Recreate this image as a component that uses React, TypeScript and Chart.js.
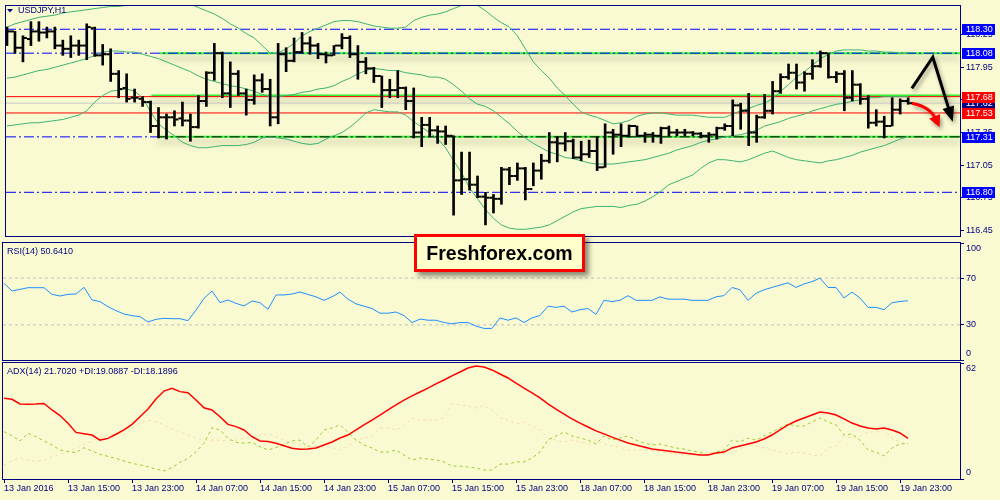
import React, { useEffect, useRef } from "react";
import { Chart, registerables } from "chart.js";

Chart.register(...registerables);

const FONT = "'Liberation Sans', Arial, sans-serif";
const NAVY = "#000080";
const BG = "#FAFAD2";
Chart.defaults.font.family = FONT;
Chart.defaults.font.size = 9;

// ---------- price data (H1 bars, 13 Jan 07:00 .. 20 Jan 00:00) ----------
const OPEN = [118.29,118.28,118.13,118.21,118.28,118.27,118.28,118.15,118.12,118.15,
118.15,118.31,118.06,118.07,117.89,117.76,117.67,117.66,117.63,117.41,
117.49,117.49,117.48,117.46,117.40,117.64,117.90,118.08,117.71,117.89,
117.71,117.65,117.83,117.75,117.49,118.07,118.01,118.09,118.17,118.15,
118.07,118.06,118.15,118.22,118.07,118.00,117.94,117.87,117.74,117.74,
117.76,117.64,117.35,117.42,117.37,117.36,117.32,116.91,116.92,116.87,
116.76,116.75,116.74,117.01,116.95,117.02,116.83,117.00,117.09,117.26,
117.25,117.27,117.12,117.15,117.18,117.03,117.35,117.33,117.32,117.41,
117.32,117.33,117.32,117.39,117.35,117.35,117.35,117.34,117.32,117.33,
117.39,117.41,117.60,117.55,117.35,117.49,117.55,117.73,117.86,117.90,
117.81,117.89,117.96,118.08,117.86,117.89,117.67,117.79,117.66,117.44,
117.45,117.41,117.56,117.64];
const HIGH = [118.32,118.28,118.24,118.37,118.37,118.32,118.32,118.20,118.24,118.20,
118.35,118.32,118.16,118.12,117.92,117.89,117.75,117.68,117.64,117.58,
117.52,117.55,117.63,117.52,117.69,117.91,118.17,118.09,118.00,117.92,
117.75,117.88,117.89,117.84,118.17,118.13,118.22,118.27,118.23,118.17,
118.09,118.15,118.26,118.24,118.15,118.04,117.95,117.87,117.84,117.92,
117.77,117.76,117.49,117.49,117.41,117.41,117.32,117.17,117.17,116.95,
116.80,116.78,117.03,117.03,117.07,117.03,117.07,117.15,117.35,117.31,
117.35,117.29,117.27,117.28,117.31,117.43,117.38,117.43,117.42,117.41,
117.35,117.35,117.40,117.41,117.38,117.38,117.36,117.35,117.35,117.40,
117.43,117.65,117.62,117.71,117.51,117.70,117.82,117.89,117.98,117.98,
117.91,118.02,118.10,118.08,117.91,117.92,117.92,117.80,117.69,117.56,
117.50,117.67,117.66,117.67];
const LOW = [118.15,118.08,118.00,118.15,118.19,118.22,118.12,118.06,118.04,118.06,
118.02,118.05,117.97,117.82,117.67,117.63,117.63,117.59,117.35,117.30,
117.29,117.41,117.41,117.27,117.39,117.59,117.83,117.67,117.58,117.69,
117.51,117.61,117.72,117.41,117.43,117.91,118.00,118.08,118.07,118.03,
117.99,118.06,118.12,118.04,117.84,117.89,117.81,117.58,117.67,117.67,
117.56,117.30,117.22,117.31,117.25,117.24,116.59,116.78,116.82,116.75,
116.50,116.61,116.69,116.87,116.91,116.73,116.86,116.92,117.07,117.08,
117.18,117.11,117.09,117.12,117.00,117.03,117.15,117.22,117.31,117.31,
117.26,117.26,117.25,117.32,117.32,117.32,117.32,117.30,117.26,117.29,
117.37,117.32,117.38,117.23,117.26,117.48,117.52,117.71,117.84,117.75,
117.73,117.84,117.95,117.85,117.81,117.55,117.64,117.61,117.39,117.41,
117.30,117.41,117.52,117.61];
const CLOSE = [118.28,118.13,118.22,118.28,118.27,118.28,118.15,118.12,118.15,118.15,
118.32,118.06,118.07,117.89,117.75,117.66,117.67,117.63,117.41,117.49,
117.49,117.47,117.46,117.40,117.64,117.90,118.08,117.71,117.89,117.71,
117.65,117.83,117.75,117.49,118.07,118.01,118.09,118.17,118.15,118.07,
118.06,118.15,118.22,118.07,118.00,117.94,117.87,117.74,117.74,117.76,
117.64,117.35,117.42,117.37,117.36,117.32,116.91,116.92,116.87,116.76,
116.75,116.74,117.01,116.95,117.02,116.83,117.00,117.09,117.26,117.25,
117.27,117.12,117.15,117.18,117.03,117.35,117.33,117.32,117.41,117.32,
117.33,117.32,117.39,117.35,117.35,117.35,117.34,117.32,117.33,117.39,
117.41,117.60,117.55,117.35,117.49,117.55,117.73,117.86,117.90,117.81,
117.89,117.96,118.08,117.86,117.89,117.67,117.79,117.66,117.44,117.45,
117.41,117.56,117.64,117.62];

// ---------- Bollinger bands ----------
const BB_UPPER = [118.32,118.35,118.37,118.39,118.41,118.42,118.43,118.45,118.46,118.47,
118.48,118.49,118.50,118.51,118.51,118.52,118.52,118.55,118.57,118.58,
118.58,118.57,118.56,118.53,118.50,118.47,118.44,118.40,118.35,118.31,
118.26,118.22,118.15,118.08,118.08,118.12,118.17,118.24,118.28,118.31,
118.34,118.37,118.38,118.38,118.37,118.35,118.33,118.32,118.31,118.31,
118.32,118.38,118.41,118.43,118.44,118.46,118.49,118.52,118.56,118.52,
118.47,118.41,118.36,118.32,118.24,118.12,118.00,117.92,117.85,117.76,
117.69,117.61,117.54,117.51,117.49,117.46,117.43,117.44,117.46,117.50,
117.52,117.53,117.53,117.52,117.51,117.51,117.51,117.50,117.49,117.49,
117.49,117.52,117.55,117.57,117.60,117.62,117.66,117.73,117.79,117.86,
117.91,117.97,118.03,118.07,118.10,118.11,118.11,118.11,118.10,118.10,
118.09,118.09,118.08,118.08];
const BB_MIDDLE = [117.85,117.86,117.88,117.90,117.92,117.93,117.95,117.97,117.99,118.01,
118.03,118.06,118.09,118.10,118.10,118.09,118.09,118.07,118.05,118.03,
118.00,117.97,117.94,117.91,117.87,117.84,117.82,117.80,117.78,117.77,
117.75,117.73,117.70,117.68,117.68,117.69,117.70,117.72,117.73,117.75,
117.76,117.78,117.82,117.85,117.89,117.92,117.94,117.93,117.92,117.92,
117.90,117.89,117.88,117.86,117.86,117.84,117.79,117.73,117.66,117.61,
117.59,117.55,117.49,117.43,117.36,117.30,117.25,117.21,117.17,117.15,
117.12,117.11,117.09,117.07,117.06,117.06,117.06,117.07,117.08,117.09,
117.10,117.12,117.14,117.16,117.19,117.21,117.23,117.26,117.28,117.29,
117.31,117.32,117.33,117.35,117.37,117.41,117.43,117.45,117.48,117.50,
117.52,117.55,117.57,117.59,117.61,117.62,117.64,117.65,117.67,117.67,
117.68,117.68,117.68,117.68];
const BB_LOWER = [117.41,117.42,117.43,117.44,117.44,117.45,117.46,117.47,117.49,117.51,
117.55,117.63,117.69,117.73,117.74,117.75,117.73,117.67,117.54,117.43,
117.37,117.32,117.26,117.23,117.21,117.21,117.22,117.23,117.23,117.23,
117.24,117.26,117.30,117.31,117.30,117.29,117.27,117.25,117.24,117.25,
117.29,117.32,117.35,117.40,117.46,117.53,117.56,117.55,117.54,117.54,
117.51,117.45,117.40,117.35,117.29,117.21,117.09,116.98,116.84,116.74,
116.64,116.56,116.50,116.47,116.46,116.46,116.47,116.48,116.50,116.54,
116.58,116.62,116.65,116.66,116.67,116.67,116.67,116.66,116.68,116.69,
116.72,116.76,116.81,116.87,116.90,116.93,116.96,117.02,117.07,117.10,
117.10,117.09,117.08,117.10,117.13,117.16,117.18,117.15,117.12,117.10,
117.09,117.08,117.07,117.09,117.10,117.12,117.14,117.17,117.19,117.21,
117.23,117.26,117.29,117.31];

// ---------- RSI(14) ----------
const RSI = [65.5,59.0,60.4,61.8,61.8,61.8,56.1,54.7,56.1,56.4,
62.1,51.3,49.9,45.6,42.2,39.3,37.9,37.0,32.5,34.8,
35.6,35.3,35.3,33.6,42.7,52.7,59.0,49.0,51.3,48.4,
46.2,50.4,49.0,43.3,55.6,55.6,56.4,58.1,56.0,54.0,
51.0,54.0,58.0,52.0,48.0,46.0,44.0,40.0,40.0,41.0,
38.0,32.0,35.0,34.0,34.0,32.0,31.0,32.0,32.0,29.0,
27.0,27.0,36.0,34.0,36.0,32.0,36.0,38.0,46.0,45.0,
46.0,41.0,43.0,44.0,39.0,51.0,50.0,51.0,55.0,51.0,
51.0,51.0,54.0,52.0,52.0,52.0,51.0,51.0,51.0,54.0,
55.0,62.0,60.0,51.0,57.0,60.0,62.0,64.0,66.0,62.0,
65.0,67.0,70.0,62.0,62.0,53.0,58.0,53.0,45.0,45.0,
43.0,49.0,50.0,50.64];

// ---------- ADX(14) ----------
const ADX = [43.1,42.6,40.1,39.9,40.1,40.4,36.9,33.9,29.8,24.9,
24.2,23.5,20.8,21.7,23.9,26.2,29.2,33.3,37.4,42.8,
47.0,48.5,46.7,46.1,42.2,38.1,36.9,33.3,29.2,28.0,
26.2,22.6,20.3,20.0,19.1,17.8,16.4,15.9,16.0,16.6,
18.2,19.8,21.9,23.5,26.2,28.9,31.5,34.2,36.9,39.6,
42.2,44.4,46.5,48.6,50.8,52.9,55.1,57.2,59.3,60.4,
59.9,58.3,56.1,54.0,51.3,48.6,46.0,43.3,40.1,37.4,
34.7,32.1,29.9,27.8,25.7,24.1,22.4,20.8,19.2,18.2,
17.1,16.0,15.5,15.0,14.4,13.9,13.4,12.8,12.8,13.9,
14.4,16.6,17.6,18.7,19.8,21.4,23.5,26.2,28.9,31.0,
32.6,34.2,35.8,35.3,34.2,32.1,29.9,28.3,27.3,26.7,
27.3,26.2,24.6,21.70];
const PLUS_DI = [25.3,23.2,20.3,24.4,22.6,20.3,18.2,15.5,14.6,14.1,
16.7,15.0,13.2,12.1,11.0,9.6,8.4,7.5,6.6,5.3,
4.3,6.1,8.9,11.0,14.6,19.1,27.4,26.2,21.7,19.6,
19.1,19.6,17.3,15.5,16.7,18.5,20.3,20.8,17.1,20.8,
26.2,27.3,28.9,25.1,20.8,18.2,16.6,14.4,14.4,15.5,
12.8,10.2,11.2,10.7,10.2,9.1,6.9,6.9,6.4,5.9,
4.8,4.8,8.0,8.0,9.1,9.1,11.2,14.4,20.8,23.0,
25.1,23.0,21.9,20.8,18.7,23.0,20.8,21.9,23.0,20.8,
19.2,18.2,18.7,17.6,16.6,16.0,15.0,14.4,12.8,14.4,
15.5,20.8,19.8,21.9,20.8,23.0,25.1,27.3,29.4,28.3,
28.3,30.5,32.6,30.5,28.9,23.5,24.1,20.8,15.5,14.4,
12.3,16.6,18.7,19.09];
const MINUS_DI = [7.5,9.6,11.4,10.2,9.3,10.2,11.9,13.2,14.6,16.7,
18.5,20.3,22.3,23.5,23.9,23.5,27.4,29.8,31.5,30.6,
28.9,26.7,25.3,23.5,22.1,20.8,20.8,20.7,20.3,20.8,
21.7,22.4,23.2,24.2,22.6,20.8,19.1,18.2,16.6,17.6,
17.6,16.6,15.5,17.6,20.8,21.9,23.0,27.3,27.3,26.2,
28.3,32.6,31.5,31.5,31.5,32.6,40.1,39.6,39.0,37.9,
39.0,36.9,32.6,31.5,29.4,30.5,28.3,26.2,21.9,20.8,
19.8,20.8,19.8,18.7,20.8,18.7,17.6,17.1,15.5,15.5,
15.5,15.0,14.4,13.9,13.4,12.8,12.8,13.4,14.4,13.9,
13.4,14.4,15.5,18.7,17.6,16.6,15.5,14.4,13.4,14.4,
13.9,12.8,12.3,16.6,17.6,23.0,21.9,23.0,25.1,25.1,
26.2,21.9,19.8,18.19];

// ---------- axes ----------
const X_TICK_INDEX = [0, 8, 16, 24, 32, 40, 48, 56, 64, 72, 80, 88, 96, 104, 112];
const X_TICK_LABELS = ["13 Jan 2016", "13 Jan 15:00", "13 Jan 23:00", "14 Jan 07:00", "14 Jan 15:00",
  "14 Jan 23:00", "15 Jan 07:00", "15 Jan 15:00", "15 Jan 23:00", "18 Jan 07:00", "18 Jan 15:00",
  "18 Jan 23:00", "19 Jan 07:00", "19 Jan 15:00", "19 Jan 23:00"];
const PRICE_TICKS = [118.25, 117.95, 117.65, 117.35, 117.05, 116.75, 116.45];
const RSI_TICKS = [100, 70, 30, 0];
const RSI_LEVELS = [70, 30];
const ADX_TICKS = [62, 0];
const X_MIN = -0.125;
const X_MAX = 119.5;
const PRICE_MIN = 116.398;
const PRICE_MAX = 118.514;

// ---------- chart objects (levels, trend lines, arrows) ----------
const BLUE_LEVELS = [118.30, 118.08, 116.80];
const BLUE_LEFT_LEVEL = 117.31;
const RED_LEVELS = [117.68, 117.53];
const BID = 117.62;
const GREEN_LEVELS = [118.08, 117.69, 117.31];
const GREEN_FROM = [19.2, 18.1, 18.9];
const BLACK_LEVEL = 117.31;
const LABEL_PRICES = [118.30, 118.08, 117.62, 117.68, 117.53, 117.31, 116.80];
const LABEL_COLORS = ["#0000FF", "#0000FF", "#000080", "#FF0000", "#FF0000", "#0000FF", "#0000FF"];
const ARROW_BLACK_X = [113.46, 116.09, 118.59];
const ARROW_BLACK_Y = [117.756, 118.043, 117.45];
const ARROW_RED_X = [113.46, 115.75, 116.94];
const ARROW_RED_Y = [117.619, 117.59, 117.398];

const DASHDOT = [10, 3, 2, 3];

const idx = OPEN.map((_, i) => i);
const series = (arr: number[]) => arr.map((v, i) => ({ x: i, y: v }));
const hline = (y: number, x0 = X_MIN, x1 = X_MAX) => [{ x: x0, y }, { x: x1, y }];

const lineDs = (data: any[], color: string, width: number, order: number, extra: any = {}) => ({
  type: "line",
  data,
  borderColor: color,
  borderWidth: width,
  pointRadius: 0,
  fill: false,
  tension: 0,
  order,
  ...extra,
});

const framePlugin = {
  id: "frame",
  afterDraw(chart: any) {
    const { ctx, chartArea: a } = chart;
    ctx.save();
    ctx.strokeStyle = NAVY;
    ctx.lineWidth = 1;
    ctx.strokeRect(a.left - 0.5, a.top - 0.5, a.right - a.left + 1, a.bottom - a.top + 1);
    ctx.restore();
  },
};

const shadowPlugin = {
  id: "shadow",
  beforeDatasetDraw(chart: any, args: any) {
    const ds = chart.data.datasets[args.index];
    if (ds.shadow) {
      chart.ctx.save();
      chart.ctx.shadowColor = "rgba(40,40,20,0.35)";
      chart.ctx.shadowBlur = 6;
      chart.ctx.shadowOffsetY = 5;
    }
  },
  afterDatasetDraw(chart: any, args: any) {
    const ds = chart.data.datasets[args.index];
    if (ds.shadow) chart.ctx.restore();
  },
};

function textAt(ctx: any, s: string, x: number, y: number, color = NAVY) {
  ctx.fillStyle = color;
  ctx.font = `9px ${FONT}`;
  ctx.textBaseline = "middle";
  ctx.textAlign = "left";
  ctx.fillText(s, x, y);
}

function drawHead(ctx: any, tx: number, ty: number, ang: number, len: number, w: number) {
  const bx = tx - Math.cos(ang) * len;
  const by = ty - Math.sin(ang) * len;
  ctx.beginPath();
  ctx.moveTo(tx, ty);
  ctx.lineTo(bx + Math.sin(ang) * w, by - Math.cos(ang) * w);
  ctx.lineTo(bx - Math.sin(ang) * w, by + Math.cos(ang) * w);
  ctx.closePath();
  ctx.fill();
}

const mainDecor = {
  id: "mainDecor",
  afterDatasetsDraw(chart: any) {
    const { ctx, scales } = chart;
    const X = (v: number) => scales.x.getPixelForValue(v);
    const Y = (v: number) => scales.y.getPixelForValue(v);
    ctx.save();
    ctx.shadowColor = "rgba(0,0,0,0.35)";
    ctx.shadowBlur = 4;
    ctx.shadowOffsetX = 2;
    ctx.shadowOffsetY = 3;
    const bx = ARROW_BLACK_X.map(X);
    const by = ARROW_BLACK_Y.map(Y);
    const ang = Math.atan2(by[2] - by[1], bx[2] - bx[1]);
    ctx.strokeStyle = "#000";
    ctx.fillStyle = "#000";
    ctx.lineWidth = 3;
    ctx.beginPath();
    ctx.moveTo(bx[0], by[0]);
    ctx.lineTo(bx[1], by[1]);
    ctx.lineTo(bx[2] - Math.cos(ang) * 10, by[2] - Math.sin(ang) * 10);
    ctx.stroke();
    drawHead(ctx, bx[2], by[2], ang, 15, 6);
    const rx = ARROW_RED_X.map(X);
    const ry = ARROW_RED_Y.map(Y);
    const rang = Math.atan2(ry[2] - ry[1], rx[2] - rx[1]);
    ctx.strokeStyle = "#FF0000";
    ctx.fillStyle = "#FF0000";
    ctx.beginPath();
    ctx.moveTo(rx[0], ry[0]);
    ctx.quadraticCurveTo(rx[1], ry[1], rx[2] - Math.cos(rang) * 8, ry[2] - Math.sin(rang) * 8);
    ctx.stroke();
    drawHead(ctx, rx[2], ry[2], rang, 12, 6);
    ctx.restore();
  },
  afterDraw(chart: any) {
    const { ctx, chartArea: a, scales } = chart;
    ctx.save();
    ctx.fillStyle = NAVY;
    ctx.beginPath();
    ctx.moveTo(7, 9);
    ctx.lineTo(13, 9);
    ctx.lineTo(10, 12.5);
    ctx.closePath();
    ctx.fill();
    textAt(ctx, "USDJPY,H1", 18, 10.5);
    LABEL_PRICES.forEach((p, k) => {
      const py = Math.round(scales.y.getPixelForValue(p));
      ctx.fillStyle = LABEL_COLORS[k];
      ctx.fillRect(a.right + 2, py - 5, 33, 11);
      textAt(ctx, p.toFixed(2), a.right + 6, py + 0.5, "#FFFFFF");
    });
    ctx.restore();
  },
};

const sideLabels = (values: number[], title: string) => ({
  id: "side",
  afterDraw(chart: any) {
    const { ctx, chartArea: a, scales } = chart;
    ctx.save();
    values.forEach((v) => {
      let py = scales.y.getPixelForValue(v);
      py = Math.min(Math.max(py, a.top + 6), a.bottom - 6);
      textAt(ctx, String(v), a.right + 6, py);
    });
    textAt(ctx, title, 7, 10.5);
    ctx.restore();
  },
});

const yAxis = (min: number, max: number, ticks: number[], showLabels: boolean) => ({
  type: "linear",
  position: "right",
  min,
  max,
  afterFit: (s: any) => { s.width = 40; s.paddingTop = 0; s.paddingBottom = 0; },
  afterBuildTicks: (s: any) => { s.ticks = ticks.map((v) => ({ value: v })); },
  ticks: {
    color: NAVY,
    font: { family: FONT, size: 9 },
    padding: 2,
    autoSkip: false,
    callback: (v: any) => (showLabels ? Number(v).toFixed(2) : ""),
  },
  grid: { drawOnChartArea: false, drawTicks: true, tickLength: 4, color: NAVY },
  border: { display: false },
});

const hiddenX = { type: "linear", min: X_MIN, max: X_MAX, offset: false, display: false };

const baseOptions = (padding: any, scales: any) => ({
  animation: false,
  responsive: false,
  events: [],
  layout: { padding },
  plugins: { legend: { display: false }, tooltip: { enabled: false } },
  scales,
});

function mainConfig(): any {
  const datasets: any[] = [];
  GREEN_LEVELS.forEach((p, k) => {
    datasets.push(lineDs(hline(p, GREEN_FROM[k]), "#33EE33", 2, 100, { shadow: true }));
  });
  BLUE_LEVELS.forEach((p) => datasets.push(lineDs(hline(p), "#0000FF", 1, 90, { borderDash: DASHDOT })));
  datasets.push(lineDs(hline(BLUE_LEFT_LEVEL, X_MIN, GREEN_FROM[2]), "#0000FF", 1, 90, { borderDash: DASHDOT }));
  datasets.push(lineDs(hline(BLACK_LEVEL, GREEN_FROM[2]), "#000000", 1, 88, { borderDash: DASHDOT }));
  datasets.push(lineDs(hline(BID), "#C8C8C8", 1, 92));
  RED_LEVELS.forEach((p) => datasets.push(lineDs(hline(p), "#FF0000", 1, 89)));
  datasets.push(lineDs(series(BB_UPPER), "#3CB371", 1, 50));
  datasets.push(lineDs(series(BB_MIDDLE), "#3CB371", 1, 50));
  datasets.push(lineDs(series(BB_LOWER), "#3CB371", 1, 50));
  datasets.push({
    type: "bar",
    data: idx.map((i) => ({ x: i, y: [LOW[i], HIGH[i]] })),
    backgroundColor: "#000000",
    borderWidth: 0,
    barThickness: 2,
    order: 20,
  });
  datasets.push({
    type: "line",
    data: idx.map((i) => ({ x: i - 0.3125, y: OPEN[i] })),
    showLine: false,
    pointStyle: "line",
    pointRadius: 1.5,
    pointBorderWidth: 2,
    pointBorderColor: "#000000",
    pointBackgroundColor: "#000000",
    order: 10,
  });
  datasets.push({
    type: "line",
    data: idx.map((i) => ({ x: i + 0.3125, y: CLOSE[i] })),
    showLine: false,
    pointStyle: "line",
    pointRadius: 1.5,
    pointBorderWidth: 2,
    pointBorderColor: "#000000",
    pointBackgroundColor: "#000000",
    order: 10,
  });
  return {
    type: "line",
    data: { datasets },
    options: baseOptions({ left: 3, right: 0, top: 2, bottom: 2 }, {
      x: hiddenX,
      y: yAxis(PRICE_MIN, PRICE_MAX, PRICE_TICKS, true),
    }),
    plugins: [shadowPlugin, mainDecor, framePlugin],
  };
}

function rsiConfig(): any {
  const datasets: any[] = [lineDs(series(RSI), "#1E90FF", 1, 1)];
  RSI_LEVELS.forEach((l) => datasets.push(lineDs(hline(l), "#C0C0C0", 1, 5, { borderDash: [3, 3] })));
  return {
    type: "line",
    data: { datasets },
    options: baseOptions({ left: 3, right: 0, top: 2, bottom: 1 }, {
      x: hiddenX,
      y: yAxis(0, 100, RSI_TICKS, false),
    }),
    plugins: [framePlugin, sideLabels(RSI_TICKS, "RSI(14) 50.6410")],
  };
}

function adxConfig(): any {
  const datasets: any[] = [
    lineDs(series(ADX), "#FF0000", 1.5, 1),
    lineDs(series(PLUS_DI), "#9ACD32", 1, 2, { borderDash: [3, 3] }),
    lineDs(series(MINUS_DI), "#F5DEB3", 1, 3, { borderDash: [3, 3] }),
  ];
  return {
    type: "line",
    data: { datasets },
    options: baseOptions({ left: 3, right: 0, top: 2, bottom: 0 }, {
      x: {
        type: "linear",
        min: X_MIN,
        max: X_MAX,
        offset: false,
        afterBuildTicks: (s: any) => { s.ticks = X_TICK_INDEX.map((v) => ({ value: v })); },
        afterFit: (s: any) => { s.height = 21; s.paddingLeft = 0; s.paddingRight = 0; },
        ticks: {
          autoSkip: false,
          maxRotation: 0,
          minRotation: 0,
          align: "start",
          color: NAVY,
          font: { family: FONT, size: 9 },
          padding: 0,
          callback: (_v: any, i: number) => X_TICK_LABELS[i],
        },
        grid: { drawOnChartArea: false, drawTicks: true, tickLength: 4, color: NAVY },
        border: { display: false },
      },
      y: yAxis(0, 62, ADX_TICKS, false),
    }),
    plugins: [framePlugin, sideLabels(ADX_TICKS, "ADX(14) 21.7020 +DI:19.0887 -DI:18.1896")],
  };
}

export default function App() {
  const mainRef = useRef<HTMLCanvasElement>(null);
  const rsiRef = useRef<HTMLCanvasElement>(null);
  const adxRef = useRef<HTMLCanvasElement>(null);

  useEffect(() => {
    const charts = [
      new Chart(mainRef.current as HTMLCanvasElement, mainConfig()),
      new Chart(rsiRef.current as HTMLCanvasElement, rsiConfig()),
      new Chart(adxRef.current as HTMLCanvasElement, adxConfig()),
    ];
    return () => charts.forEach((c) => c.destroy());
  }, []);

  const canvasStyle = (top: number, h: number): React.CSSProperties => ({
    position: "absolute", left: 0, top, width: 1000, height: h, display: "block",
  });

  return (
    <div style={{ position: "absolute", left: 0, top: 0, width: 1000, height: 500, background: BG, overflow: "hidden" }}>
      <canvas ref={mainRef} width={1000} height={242} style={canvasStyle(0, 242)} />
      <canvas ref={rsiRef} width={1000} height={120} style={canvasStyle(241, 120)} />
      <canvas ref={adxRef} width={1000} height={139} style={canvasStyle(361, 139)} />
      <div
        style={{
          position: "absolute", left: 414, top: 234, width: 165, height: 32,
          border: "3px solid #FF0000", background: "#FFFFCC",
          boxShadow: "4px 4px 5px rgba(0,0,0,0.45)",
          font: `bold 19.5px ${FONT}`, color: "#000", display: "flex",
          alignItems: "center", justifyContent: "center", zIndex: 5,
        }}
      >
        Freshforex.com
      </div>
    </div>
  );
}
